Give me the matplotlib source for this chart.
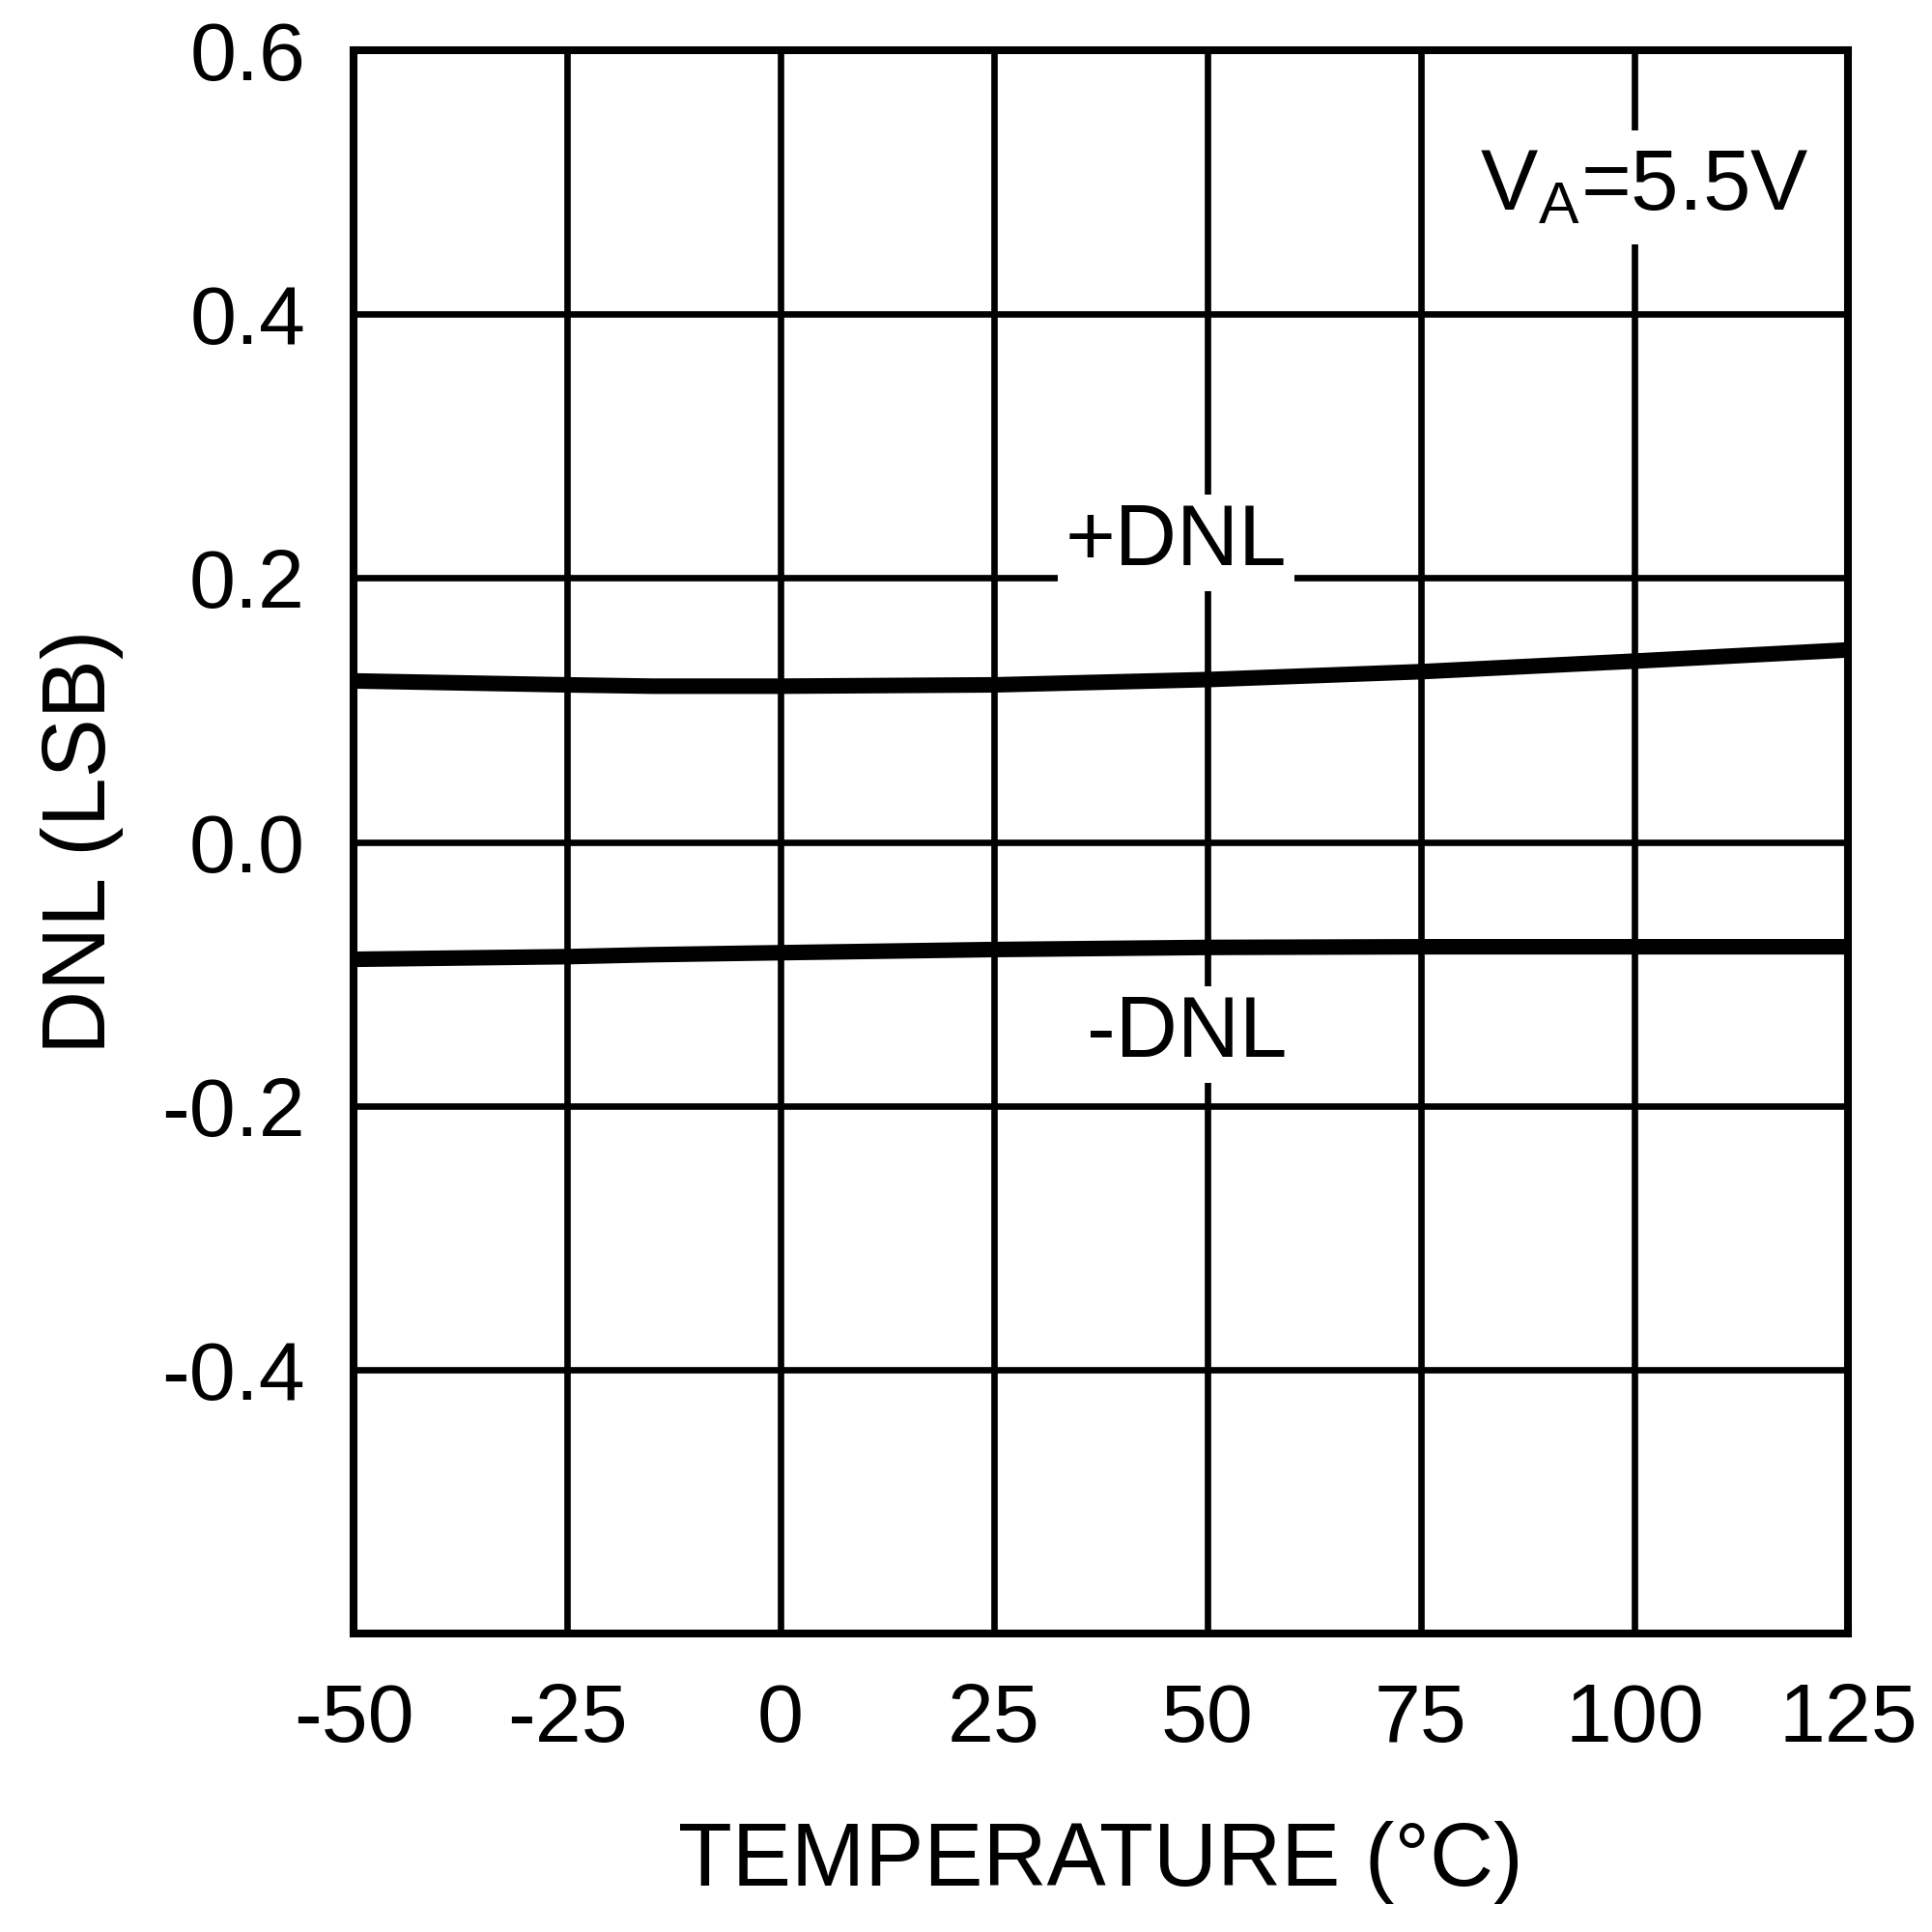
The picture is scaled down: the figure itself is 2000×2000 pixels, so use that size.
import matplotlib
matplotlib.use("Agg")
import matplotlib.pyplot as plt

plt.rcParams['font.family'] = ['Liberation Sans', 'DejaVu Sans']
plt.rcParams['mathtext.fontset'] = 'custom'
plt.rcParams['mathtext.rm'] = 'Liberation Sans'

# data
temp = [-50, -25, -15, 0, 25, 50, 75, 100, 125]
dnl_pos = [0.122, 0.119, 0.118, 0.118, 0.119, 0.123, 0.129, 0.137, 0.1455]
dnl_neg = [-0.089, -0.087, -0.0855, -0.084, -0.0816, -0.080, -0.0795, -0.0795, -0.0795]
xticks = [-50, -25, 0, 25, 50, 75, 100, 125]
yticks = [-0.4, -0.2, 0.0, 0.2, 0.4, 0.6]
ylabels = ['-0.4', '-0.2', '0.0', '0.2', '0.4', '0.6']

fig = plt.figure(figsize=(10, 10), dpi=200)
ax = fig.add_axes([0.183, 0.1545, 0.7735, 0.8195])

ax.plot(temp, dnl_pos, color='black', lw=5.8, solid_capstyle='butt', zorder=3)
ax.plot(temp, dnl_neg, color='black', lw=5.8, solid_capstyle='butt', zorder=3)

ax.set_xlim(-50, 125)
ax.set_ylim(-0.6, 0.6)
ax.set_xticks(xticks)
ax.set_xticklabels([str(t) for t in xticks])
ax.set_yticks(yticks)
ax.set_yticklabels(ylabels)
ax.grid(True, color='black', lw=2.4)
ax.set_axisbelow(True)
ax.tick_params(axis='x', length=0, labelsize=31, pad=18)
ax.tick_params(axis='y', length=0, labelsize=31, pad=18)
for s in ax.spines.values():
    s.set_linewidth(2.9)
    s.set_zorder(5)

box = dict(facecolor='white', edgecolor='none', pad=3)
ax.text(46.3, 0.2097, '+DNL', fontsize=32, ha='center', va='baseline', bbox=box, zorder=4)
ax.text(47.6, -0.163, '-DNL', fontsize=32, ha='center', va='baseline', bbox=box, zorder=4)
ax.text(120.4, 0.479, r'V$_\mathrm{A}$=5.5V', fontsize=32, ha='right', va='baseline',
        bbox=dict(facecolor='white', edgecolor='none', pad=6), zorder=4)

ax.set_xlabel('TEMPERATURE (°C)', fontsize=33, labelpad=23)
ax.set_ylabel('DNL (LSB)', fontsize=33, labelpad=14)

fig.savefig('out.png', dpi=200, facecolor='white')
